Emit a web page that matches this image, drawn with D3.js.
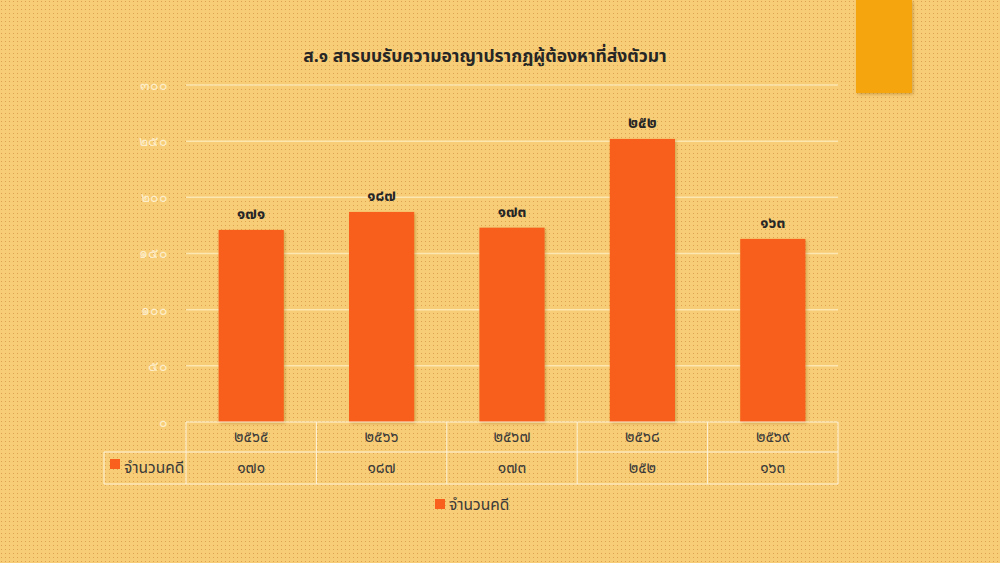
<!DOCTYPE html>
<html><head><meta charset="utf-8">
<script src="https://cdn.jsdelivr.net/npm/d3@7"></script>
<style>
html,body{margin:0;padding:0;background:#f8cd77;}
svg{display:block;font-family:"Noto Sans Thai","Tahoma","Leelawadee UI","Noto Sans",sans-serif;}
</style></head>
<body>
<svg id="c" width="1000" height="563"></svg>
<script>
const title = "ส.๑ สารบบรับความอาญาปรากฏผู้ต้องหาที่ส่งตัวมา";
const categories = ["๒๕๖๕","๒๕๖๖","๒๕๖๗","๒๕๖๘","๒๕๖๙"];
const values = [171,187,173,252,163];
const valueLabels = ["๑๗๑","๑๘๗","๑๗๓","๒๕๒","๑๖๓"];
const yTicks = [0,50,100,150,200,250,300];
const yTickLabels = ["๐","๕๐","๑๐๐","๑๕๐","๒๐๐","๒๕๐","๓๐๐"];
const seriesName = "จำนวนคดี";

(function(){
const svg = d3.select("#c");
const defs = svg.append("defs");
const pat = defs.append("pattern").attr("id","dots").attr("width",4).attr("height",4).attr("patternUnits","userSpaceOnUse");
pat.append("rect").attr("width",4).attr("height",4).attr("fill","#f8cd77");
pat.append("rect").attr("x",1).attr("y",1).attr("width",1).attr("height",1).attr("fill","#dda24c");
const sh = defs.append("filter").attr("id","sh").attr("x","-20%").attr("y","-20%").attr("width","150%").attr("height","150%");
sh.append("feDropShadow").attr("dx",1.5).attr("dy",1.5).attr("stdDeviation",1.5).attr("flood-color","#8a5a10").attr("flood-opacity",0.35);

svg.append("rect").attr("width",1000).attr("height",563).attr("fill","url(#dots)");
svg.append("rect").attr("x",856).attr("y",0).attr("width",56).attr("height",93).attr("fill","#f5a510").attr("filter","url(#sh)");

const pl = 186, pr = 838, pt = 85, pb = 422;
const x = d3.scaleBand().domain(categories).range([pl,pr]).paddingInner(0).paddingOuter(0);
const y = d3.scaleLinear().domain([0,300]).range([pb,pt]);

svg.append("text").attr("x",485).attr("y",62).attr("text-anchor","middle")
  .attr("font-size",17.5).attr("font-weight","bold").attr("fill","#262626").text(title);

// gridlines
svg.append("g").selectAll("line").data(yTicks.filter(d=>d>0)).join("line")
  .attr("x1",pl).attr("x2",pr).attr("y1",d=>y(d)).attr("y2",d=>y(d))
  .attr("stroke","#fce6b2").attr("stroke-width",1.5);

// y axis labels
const yAxis = d3.axisLeft(y).tickValues(yTicks).tickSize(0).tickPadding(18)
  .tickFormat((d,i)=>yTickLabels[i]);
const ya = svg.append("g").attr("transform",`translate(${pl},0)`).call(yAxis);
ya.select(".domain").remove();
ya.selectAll("text").attr("font-size",14).attr("fill","#fdeecb").attr("font-family","inherit");

// bars
svg.append("g").selectAll("rect").data(values).join("rect")
  .attr("x",(d,i)=>x(categories[i])+x.bandwidth()*0.25)
  .attr("width",x.bandwidth()*0.5)
  .attr("y",d=>y(d)).attr("height",d=>pb-y(d))
  .attr("fill","#f95f1d").attr("filter","url(#sh)");

// data labels
svg.append("g").selectAll("text").data(values).join("text")
  .attr("x",(d,i)=>x(categories[i])+x.bandwidth()/2)
  .attr("y",d=>y(d)-11).attr("text-anchor","middle")
  .attr("font-size",15.5).attr("font-weight","bold").attr("fill","#262626")
  .text((d,i)=>valueLabels[i]);

// data table
const r1 = pb, r2 = 452, r3 = 484, tl = 104;
const tg = svg.append("g").attr("stroke","#fdf3dc").attr("stroke-width",1).attr("fill","none");
tg.append("line").attr("x1",pl).attr("x2",pr).attr("y1",r1).attr("y2",r1);
tg.append("line").attr("x1",tl).attr("x2",pr).attr("y1",r2).attr("y2",r2);
tg.append("line").attr("x1",tl).attr("x2",pr).attr("y1",r3).attr("y2",r3);
tg.append("line").attr("x1",tl).attr("x2",tl).attr("y1",r2).attr("y2",r3);
const cuts = categories.map(c=>x(c)).concat([pr]);
tg.selectAll("line.v").data(cuts).join("line").attr("class","v")
  .attr("x1",d=>d).attr("x2",d=>d).attr("y1",r1).attr("y2",r3);

svg.append("g").selectAll("text").data(categories).join("text")
  .attr("x",d=>x(d)+x.bandwidth()/2).attr("y",(r1+r2)/2+5).attr("text-anchor","middle")
  .attr("font-size",15.5).attr("fill","#3a3a3a").text(d=>d);
svg.append("g").selectAll("text").data(valueLabels).join("text")
  .attr("x",(d,i)=>x(categories[i])+x.bandwidth()/2).attr("y",(r2+r3)/2+5).attr("text-anchor","middle")
  .attr("font-size",15.5).attr("fill","#3a3a3a").text(d=>d);
svg.append("rect").attr("x",110).attr("y",459).attr("width",10).attr("height",10).attr("fill","#f95f1d");
svg.append("text").attr("x",124).attr("y",473).attr("font-size",15.5).attr("fill","#3a3a3a").text(seriesName);

// legend
svg.append("rect").attr("x",435).attr("y",499).attr("width",10).attr("height",10).attr("fill","#f95f1d");
svg.append("text").attr("x",449).attr("y",510).attr("font-size",15.5).attr("fill","#3a3a3a").text(seriesName);
})();
</script>
</body></html>
